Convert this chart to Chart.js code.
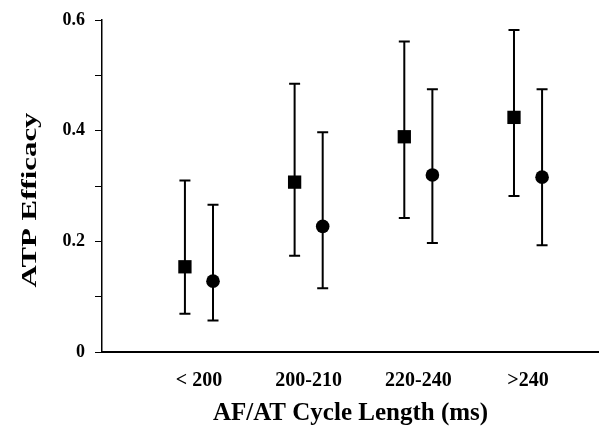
<!DOCTYPE html>
<html>
<head>
<meta charset="utf-8">
<script src="https://cdn.jsdelivr.net/npm/chart.js@4/dist/chart.umd.min.js"></script>
<style>
  html, body { margin: 0; padding: 0; background: #fff; }
  canvas { display: block; }
</style>
</head>
<body>
<canvas id="c" width="599" height="429"></canvas>
<script>
// ---- data ----
const categories = ['< 200', '200-210', '220-240', '>240'];
const squareMean  = [0.154, 0.307, 0.389, 0.424];
const squareUpper = [0.310, 0.485, 0.561, 0.582];
const squareLower = [0.069, 0.174, 0.242, 0.282];
const circleMean  = [0.128, 0.227, 0.320, 0.316];
const circleUpper = [0.266, 0.397, 0.475, 0.475];
const circleLower = [0.057, 0.115, 0.197, 0.193];
const yTickLabels = ['0', '', '0.2', '', '0.4', '', '0.6'];
const xTitle = 'AF/AT Cycle Length (ms)';
const yTitle = 'ATP Efficacy';

const groupOffset = 0.128;
const FONT = "'Liberation Serif', 'Times New Roman', serif";

function pts(means, lower, upper, off) {
  return means.map((m, i) => ({ x: i + 1 + off, y: m, lo: lower[i], hi: upper[i] }));
}

const errorBars = {
  id: 'errorBars',
  beforeDatasetsDraw(chart) {
    const { ctx, scales: { x, y } } = chart;
    ctx.save();
    ctx.strokeStyle = '#000';
    ctx.lineWidth = 2;
    chart.data.datasets.forEach(ds => {
      ds.data.forEach(p => {
        const px = x.getPixelForValue(p.x);
        const yt = y.getPixelForValue(p.hi);
        const yb = y.getPixelForValue(p.lo);
        ctx.beginPath();
        ctx.moveTo(px, yt); ctx.lineTo(px, yb);
        ctx.moveTo(px - 5.5, yt); ctx.lineTo(px + 5.5, yt);
        ctx.moveTo(px - 5.5, yb); ctx.lineTo(px + 5.5, yb);
        ctx.stroke();
      });
    });
    ctx.restore();
  }
};

// y-axis title, drawn as canvas text (stretched along its length like the reference)
const yTitlePlugin = {
  id: 'yTitle',
  afterDraw(chart) {
    const { ctx } = chart;
    ctx.save();
    ctx.font = "bold 22px " + FONT;
    ctx.fillStyle = '#000';
    ctx.textAlign = 'center';
    ctx.textBaseline = 'middle';
    ctx.translate(30, 200);
    ctx.rotate(-Math.PI / 2);
    const w = ctx.measureText(yTitle).width;
    ctx.scale(175 / w, 1);
    ctx.fillText(yTitle, 0, 0);
    ctx.restore();
  }
};

new Chart(document.getElementById('c'), {
  type: 'scatter',
  data: {
    datasets: [
      { label: 'square', data: pts(squareMean, squareLower, squareUpper, -groupOffset),
        pointStyle: 'rect', pointRadius: 9.4, backgroundColor: '#000', borderColor: '#000', borderWidth: 0 },
      { label: 'circle', data: pts(circleMean, circleLower, circleUpper, groupOffset),
        pointStyle: 'circle', pointRadius: 6.8, backgroundColor: '#000', borderColor: '#000', borderWidth: 0 }
    ]
  },
  plugins: [errorBars, yTitlePlugin],
  options: {
    responsive: false,
    animation: false,
    layout: { autoPadding: false, padding: { top: 20, left: 0, right: 0, bottom: 0 } },
    plugins: { legend: { display: false }, tooltip: { enabled: false } },
    scales: {
      x: {
        type: 'linear',
        min: 0.116, max: 4.647,
        afterBuildTicks: s => { s.ticks = categories.map((c, i) => ({ value: i + 1 })); },
        afterFit: s => { s.height = 77; s.paddingLeft = 0; s.paddingRight = 0; },
        grid: { display: true, drawOnChartArea: false, drawTicks: false },
        border: { display: true, color: '#000', width: 2 },
        ticks: {
          callback: v => categories[Math.round(v) - 1],
          color: '#000', padding: 17, maxRotation: 0, autoSkip: false,
          font: { family: FONT, size: 20, weight: 'bold' }
        },
        title: {
          display: true, text: xTitle, color: '#000',
          font: { family: FONT, size: 25, weight: 'bold' }, padding: { top: 0, bottom: 0 }
        }
      },
      y: {
        min: 0, max: 0.6,
        afterFit: s => { s.width = 102; s.paddingTop = 0; s.paddingBottom = 0; },
        grid: { display: true, drawOnChartArea: false, drawTicks: true, tickLength: 7, tickColor: '#000', tickWidth: 1 },
        border: { display: true, color: '#000', width: 1.5 },
        ticks: {
          stepSize: 0.1,
          callback: (v, i) => yTickLabels[i],
          color: '#000', padding: 10,
          font: { family: FONT, size: 18, weight: 'bold' }
        },
        title: { display: false }
      }
    }
  }
});
</script>
</body>
</html>
